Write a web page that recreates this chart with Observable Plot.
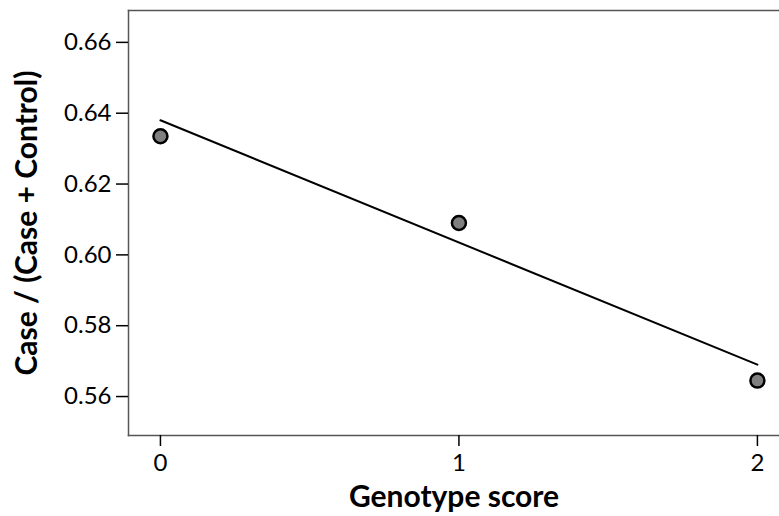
<!DOCTYPE html>
<html>
<head>
<meta charset="utf-8">
<script src="https://cdn.jsdelivr.net/npm/d3@7"></script>
<script src="https://cdn.jsdelivr.net/npm/@observablehq/plot@0.6"></script>
<style>
  html, body { margin: 0; padding: 0; background: #fff; }
</style>
</head>
<body>
<div id="chart"></div>
<script>
// Data
const genotypeScores = [0, 1, 2];
const caseFractions = [0.6335, 0.609, 0.5645];
const fitX = [0, 2];
const fitY = [0.638, 0.569];
const yTicks = [0.56, 0.58, 0.60, 0.62, 0.64, 0.66];
const xTicks = [0, 1, 2];
const xDomain = [-0.107, 2.074];
const yDomain = [0.549, 0.669];

const points = genotypeScores.map((g, i) => ({g, v: caseFractions[i]}));
const fit = fitX.map((g, i) => ({g, v: fitY[i]}));

const chart = Plot.plot({
  width: 779,
  height: 516,
  marginLeft: 128,
  marginTop: 10,
  marginBottom: 81,
  marginRight: 0,
  style: {fontFamily: "Lato, sans-serif", color: "black", background: "white"},
  x: {domain: xDomain},
  y: {domain: yDomain},
  marks: [
    Plot.frame({anchor: "left", stroke: "#555", strokeWidth: 1.5}),
    Plot.frame({anchor: "top", stroke: "#555", strokeWidth: 1.5}),
    Plot.frame({anchor: "bottom", stroke: "#555", strokeWidth: 1.5}),
    Plot.axisY({ticks: yTicks, tickSize: 12, tickPadding: 5, tickFormat: d3.format(".2f"), fontSize: 24, label: null, strokeWidth: 1.5}),
    Plot.axisX({ticks: xTicks, tickSize: 11, tickPadding: 7, tickFormat: d3.format("d"), fontSize: 24, label: null, strokeWidth: 1.5}),
    Plot.axisY({ticks: [], label: "Case / (Case + Control)", labelAnchor: "center", labelOffset: 113, fontSize: 30, fontWeight: "bold", labelArrow: "none"}),
    Plot.axisX({ticks: [], label: "Genotype score", labelAnchor: "center", labelOffset: 71, fontSize: 30, fontWeight: "bold", labelArrow: "none"}),
    Plot.line(fit, {x: "g", y: "v", stroke: "black", strokeWidth: 2}),
    Plot.dot(points, {x: "g", y: "v", r: 7, fill: "#808080", stroke: "black", strokeWidth: 2.5})
  ]
});
document.getElementById("chart").appendChild(chart);
</script>
</body>
</html>
